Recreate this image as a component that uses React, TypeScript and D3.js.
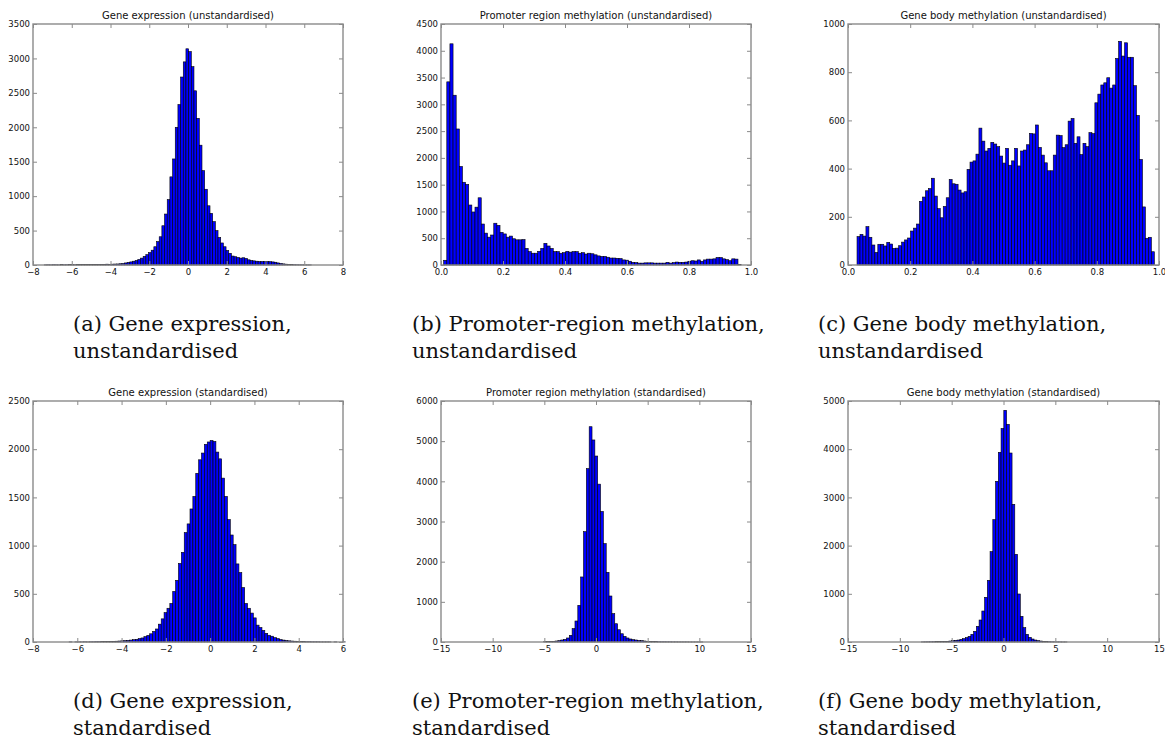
import React, { useEffect, useRef } from 'react';
import * as d3 from 'd3';

// Histogram bins: first bin edge, bin width, counts left to right.
const exprRawStart = -7.42;
const exprRawWidth = 0.138;
const exprRawCounts = [
  2, 3, 2, 4, 3, 2, 5, 3, 4, 6, 5, 4, 6, 5, 7, 6, 8, 6, 7, 9,
  8, 10, 9, 12, 10, 12, 14, 15, 18, 22,
  30, 38, 45, 55, 65, 80, 100, 125, 150, 180,
  215, 265, 340, 410, 570, 740, 950, 1280, 1540, 2000,
  2330, 2730, 2950, 3140, 3100,
  2880, 2530, 2130, 1740, 1370, 1100, 860, 750, 630, 500,
  400, 320, 265, 210, 170, 130, 120, 110, 100, 105,
  95, 75, 65, 60, 55, 50, 50, 52, 50, 48,
  45, 40, 30, 22, 16, 12, 8, 6, 4, 3,
  2, 2, 1, 1, 1,
];

const promRawStart = 0.0086;
const promRawWidth = 0.0101;
const promRawCounts = [
  88, 3420, 4130, 3170, 2540, 1840, 1545, 1505, 1120, 990,
  1080, 1255, 765, 595, 520, 560, 780, 740, 610, 580,
  520, 540, 490, 470, 470, 475, 310, 250, 220, 220,
  255, 310, 405, 355, 310, 250, 250, 220, 230, 255,
  240, 250, 250, 220, 230, 205, 220, 210, 190, 170,
  160, 160, 145, 130, 130, 125, 120, 95, 90, 70,
  50, 45, 35, 35, 40, 40, 40, 35, 35, 35,
  35, 50, 35, 45, 55, 50, 50, 55, 70, 80,
  75, 95, 70, 95, 110, 110, 115, 140, 140, 115,
  100, 80, 115, 110, 10,
];

const bodyRawStart = 0.029;
const bodyRawWidth = 0.00956;
const bodyRawCounts = [
  118, 127, 120, 159, 115, 83, 52, 86, 86, 79,
  94, 87, 69, 70, 80, 95, 104, 112, 141, 153,
  170, 264, 282, 308, 317, 360, 286, 234, 196, 243,
  279, 355, 337, 335, 311, 299, 304, 397, 427, 432,
  460, 568, 514, 473, 484, 509, 502, 491, 452, 423,
  484, 414, 432, 484, 411, 473, 477, 499, 546, 544,
  581, 488, 456, 424, 391, 391, 456, 539, 537, 487,
  499, 597, 608, 505, 532, 458, 505, 491, 549, 545,
  673, 709, 747, 756, 777, 734, 747, 857, 928, 867,
  922, 862, 862, 744, 621, 438, 241, 111, 115, 55,
];

const exprStdStart = -6.5;
const exprStdWidth = 0.13;
const exprStdCounts = [
  0, 1, 0, 1, 1, 1, 2, 1, 2, 2,
  3, 3, 4, 4, 5, 6, 7, 8, 10, 12,
  14, 17, 20, 24, 28, 35, 42, 55, 68, 85,
  110, 135, 185, 240, 305, 350, 400, 525, 640, 815,
  930, 1135, 1225, 1380, 1510, 1750, 1890, 1960, 2050, 2075,
  2090,
  2080, 1970, 1900, 1700, 1510, 1270, 1110, 1010, 810, 720,
  565, 400, 350, 300, 250, 175, 150, 120, 90, 70,
  60, 45, 35, 25, 20, 15, 12, 10, 8, 6,
  5, 4, 3, 3, 2, 2, 2, 1, 1, 1,
  1, 0, 1, 0, 0, 1, 0, 0, 0,
];

const promStdStart = -5.06;
const promStdWidth = 0.275;
const promStdCounts = [
  8, 10, 15, 17, 25, 33, 50, 66, 100, 166, 332, 523, 913, 1619, 2747, 4316,
  5360, 5030, 4630, 3930, 3250, 2450, 1735, 1145, 705, 455,
  305, 205, 140, 100, 75, 58, 50, 40, 33, 25,
  17, 12, 10, 8, 6, 5, 5, 4, 4, 3,
  3, 2, 2, 2, 2, 1, 1, 1, 1, 1,
];

const bodyStdStart = -7.92;
const bodyStdWidth = 0.265;
const bodyStdCounts = [
  2, 3, 4, 5, 6, 7, 8, 10, 12, 14,
  20, 28, 35, 41, 55, 69, 90, 118, 159, 221,
  325, 456, 643, 927, 1279, 1874, 2538, 3334, 3935, 4430,
  4807, 4516, 3921, 2856, 1819, 996, 533, 297, 159, 97,
  62, 41, 28, 20, 14, 8, 6, 4, 3, 2,
  2, 1, 1,
];

const titles = [
  'Gene expression (unstandardised)',
  'Promoter region methylation (unstandardised)',
  'Gene body methylation (unstandardised)',
  'Gene expression (standardised)',
  'Promoter region methylation (standardised)',
  'Gene body methylation (standardised)',
];

const captions = [
  ['(a) Gene expression,', 'unstandardised'],
  ['(b) Promoter-region methylation,', 'unstandardised'],
  ['(c) Gene body methylation,', 'unstandardised'],
  ['(d) Gene expression,', 'standardised'],
  ['(e) Promoter-region methylation,', 'standardised'],
  ['(f) Gene body methylation,', 'standardised'],
];

const xDomains: [number, number][] = [[-8, 8], [0, 1], [0, 1], [-8, 6], [-15, 15], [-15, 15]];
const xTickSteps = [2, 0.2, 0.2, 2, 5, 5];
const yMaxes = [3500, 4500, 1000, 2500, 6000, 5000];
const yTickSteps = [500, 500, 200, 500, 1000, 1000];

const bins = [
  { start: exprRawStart, width: exprRawWidth, counts: exprRawCounts },
  { start: promRawStart, width: promRawWidth, counts: promRawCounts },
  { start: bodyRawStart, width: bodyRawWidth, counts: bodyRawCounts },
  { start: exprStdStart, width: exprStdWidth, counts: exprStdCounts },
  { start: promStdStart, width: promStdWidth, counts: promStdCounts },
  { start: bodyStdStart, width: bodyStdWidth, counts: bodyStdCounts },
];

const W = 1165;
const H = 739;
const colLeft = [33, 441, 848];
const colRight = [343, 751, 1159];
const rowTop = [24, 401];
const rowBottom = [265, 642];
const captionX = [73, 412, 818];
const captionY = [331, 708];

const App: React.FC = () => {
  const svgRef = useRef<SVGSVGElement | null>(null);

  useEffect(() => {
    const svg = d3.select(svgRef.current);
    svg.selectAll('*').remove();
    const frameColor = '#8a8a8a';

    bins.forEach((b, p) => {
      const col = p % 3;
      const row = Math.floor(p / 3);
      const left = colLeft[col];
      const right = colRight[col];
      const top = rowTop[row];
      const bottom = rowBottom[row];

      const x = d3.scaleLinear().domain(xDomains[p]).range([left, right]);
      const y = d3.scaleLinear().domain([0, yMaxes[p]]).range([bottom, top]);

      const xTicks = d3.range(xDomains[p][0], xDomains[p][1] + xTickSteps[p] / 2, xTickSteps[p]);
      const yTicks = d3.range(0, yMaxes[p] + yTickSteps[p] / 2, yTickSteps[p]);
      const xFmt = xTickSteps[p] < 1 ? d3.format('.1f') : d3.format('d');

      const g = svg.append('g');

      // Bars.
      g.append('g')
        .selectAll('rect')
        .data(b.counts.map((c, i) => ({ c, x0: b.start + i * b.width, x1: b.start + (i + 1) * b.width })))
        .enter()
        .filter(d => d.c > 0)
        .append('rect')
        .attr('x', d => x(d.x0))
        .attr('y', d => y(d.c))
        .attr('width', d => x(d.x1) - x(d.x0))
        .attr('height', d => y(0) - y(d.c))
        .attr('fill', '#0000ff')
        .attr('stroke', '#000')
        .attr('stroke-width', 0.6);

      // Bottom axis, ticks pointing in.
      const bottomAxis = g.append('g')
        .attr('transform', `translate(0,${bottom})`)
        .call(d3.axisBottom(x).tickValues(xTicks).tickFormat(d => xFmt(d as number)).tickSize(-4).tickPadding(4));
      // Top axis, ticks only.
      const topAxis = g.append('g')
        .attr('transform', `translate(0,${top})`)
        .call(d3.axisTop(x).tickValues(xTicks).tickFormat(() => '').tickSize(-4));
      // Left axis.
      const leftAxis = g.append('g')
        .attr('transform', `translate(${left},0)`)
        .call(d3.axisLeft(y).tickValues(yTicks).tickFormat(d => d3.format('d')(d as number)).tickSize(-4).tickPadding(3));
      // Right axis, ticks only.
      const rightAxis = g.append('g')
        .attr('transform', `translate(${right},0)`)
        .call(d3.axisRight(y).tickValues(yTicks).tickFormat(() => '').tickSize(-4));

      [bottomAxis, topAxis, leftAxis, rightAxis].forEach(a => {
        a.select('.domain').remove();
        a.selectAll('line').attr('stroke', frameColor).attr('stroke-width', 1);
        a.selectAll('text')
          .attr('fill', '#111')
          .style('font-family', '"DejaVu Sans", sans-serif')
          .style('font-size', '8.5px');
      });

      // Frame.
      g.append('rect')
        .attr('x', left)
        .attr('y', top)
        .attr('width', right - left)
        .attr('height', bottom - top)
        .attr('fill', 'none')
        .attr('stroke', frameColor)
        .attr('stroke-width', 1.4);

      // Title.
      g.append('text')
        .attr('x', (left + right) / 2)
        .attr('y', top - 5)
        .attr('text-anchor', 'middle')
        .style('font-family', '"DejaVu Sans", sans-serif')
        .style('font-size', '10px')
        .attr('fill', '#111')
        .text(titles[p]);

      // Caption below the panel.
      const cap = g.append('text')
        .attr('x', captionX[col])
        .attr('y', captionY[row])
        .style('font-family', '"DejaVu Serif", serif')
        .style('font-size', '21px')
        .attr('fill', '#111');
      cap.append('tspan').attr('x', captionX[col]).attr('dy', 0).text(captions[p][0]);
      cap.append('tspan').attr('x', captionX[col]).attr('dy', 26.5).text(captions[p][1]);
    });
  }, []);

  return (
    <svg
      ref={svgRef}
      width={W}
      height={H}
      style={{ position: 'absolute', left: 0, top: 0, background: '#fff' }}
    ></svg>
  );
};

export default App;
